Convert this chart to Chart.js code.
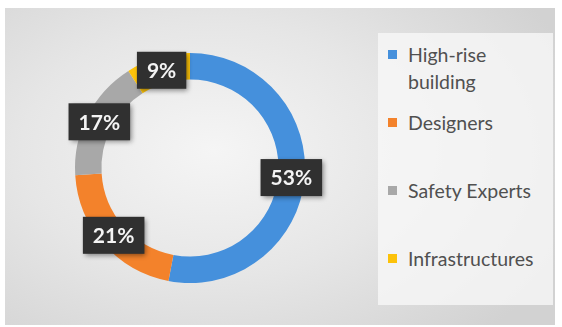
<!DOCTYPE html>
<html>
<head>
<meta charset="utf-8">
<script src="https://cdn.jsdelivr.net/npm/chart.js@4"></script>
<style>
  html, body { margin: 0; padding: 0; background: #fff; }
  #wrap { position: relative; width: 562px; height: 327px; overflow: hidden; }
  #bg {
    position: absolute; left: 5px; top: 8px; width: 550px; height: 317px;
    background: radial-gradient(ellipse 70% 80% at 38% 45%, #f5f5f5 0%, #e6e6e6 50%, #d2d2d2 100%);
  }
  #legend {
    position: absolute; left: 378px; top: 33px; width: 175px; height: 272px;
    background: rgba(248, 248, 248, 0.8);
    font-family: Lato, "Open Sans", sans-serif; font-size: 19.5px; color: #505050;
  }
  .item { position: absolute; left: 10px; line-height: 27px; }
  .item span.box { position: absolute; left: 0; top: 9px; width: 9px; height: 9px; }
  .item span.txt { display: block; margin-left: 20px; }
  canvas { position: absolute; left: 0; top: 0; }
</style>
</head>
<body>
<div id="wrap">
  <div id="bg"></div>
  <div id="legend"></div>
  <canvas id="myChart" width="562" height="327"></canvas>
</div>
<script>
// data
const categories = ['High-rise building', 'Designers', 'Safety Experts', 'Infrastructures'];
const shares = [53, 21, 17, 9];
const colors = ['#4590dc', '#f3822b', '#a8a8a8', '#fcc20a'];

// legend item tops (layout only)
const legendTops = [8, 76, 144, 212];

// Legend
const legendEl = document.getElementById('legend');
categories.forEach(function (name, i) {
  const item = document.createElement('div');
  item.className = 'item';
  item.style.top = legendTops[i] + 'px';
  const parts = name === 'High-rise building' ? 'High-rise<br>building' : name;
  item.innerHTML = '<span class="box" style="background:' + colors[i] + '"></span><span class="txt">' + parts + '</span>';
  legendEl.appendChild(item);
});

// Data labels in dark boxes
const boxLabels = {
  id: 'boxLabels',
  afterDatasetsDraw(chart) {
    const ctx = chart.ctx;
    const meta = chart.getDatasetMeta(0);
    ctx.save();
    ctx.font = 'bold 21px Lato, "Open Sans", sans-serif';
    ctx.textAlign = 'center';
    ctx.textBaseline = 'middle';
    meta.data.forEach(function (arc, i) {
      const p = arc.tooltipPosition();
      const text = shares[i] + '%';
      const w = ctx.measureText(text).width + 20;
      const h = 37;
      ctx.shadowColor = 'rgba(0,0,0,0.45)';
      ctx.shadowBlur = 5;
      ctx.shadowOffsetX = 2;
      ctx.shadowOffsetY = 2;
      ctx.fillStyle = '#303030';
      ctx.fillRect(p.x - w / 2, p.y - h / 2, w, h);
      ctx.shadowColor = 'transparent';
      ctx.fillStyle = '#f4f4f4';
      ctx.fillText(text, p.x, p.y + 1);
    });
    ctx.restore();
  }
};

const ctx = document.getElementById('myChart');
new Chart(ctx, {
  type: 'doughnut',
  data: {
    labels: categories,
    datasets: [{
      data: shares,
      backgroundColor: colors,
      borderWidth: 0
    }]
  },
  options: {
    responsive: false,
    animation: false,
    cutout: '77%',
    layout: { padding: { left: 75, right: 257, top: 53, bottom: 44 } },
    plugins: {
      legend: { display: false },
      tooltip: { enabled: false }
    }
  },
  plugins: [boxLabels]
});
</script>
</body>
</html>
